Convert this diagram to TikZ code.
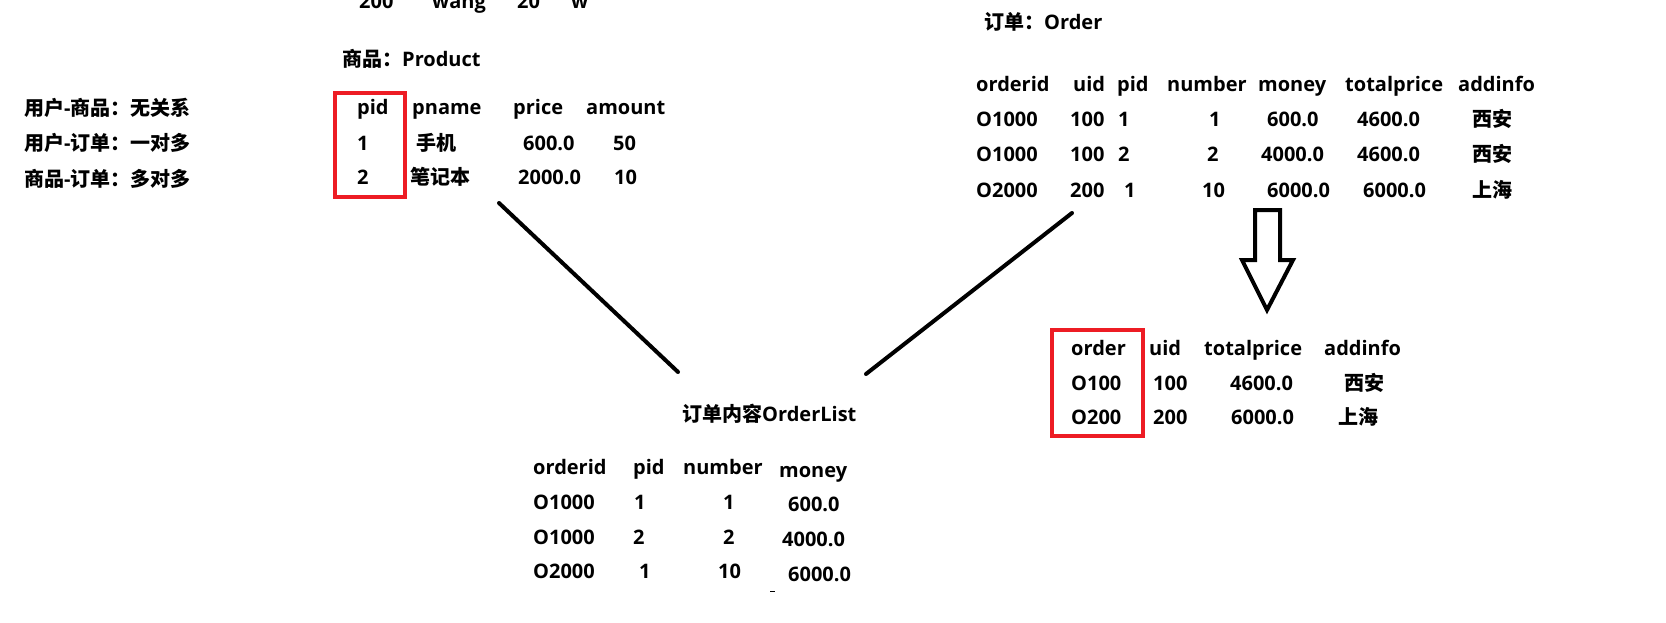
\documentclass[tikz,border=0pt]{standalone}
\usepackage{fontspec}
\setmainfont{Open Sans}
\newfontfamily\cjk{Noto Sans CJK SC}
\definecolor{keyred}{RGB}{237,28,36}

\begin{document}
\begin{tikzpicture}[x=1pt, y=-1pt,
    cell/.style={anchor=base west, inner sep=0pt, font=\fontsize{20}{24}\selectfont\bfseries},
    keybox/.style={draw=keyred, line width=4.5pt},
    lnk/.style={line width=4pt, line cap=round}]
  \useasboundingbox[fill=white] (0,0) rectangle (1666,623);

  % row cut off at the top
  \foreach \x/\t [count=\i] in {359/200,432/wang,517/20,571/w}
    \node[cell] (top\i) at (\x,9) {\t};

  % relations
  \node[cell] (rel1) at (24,116) {{\cjk 用户}-{\cjk 商品：无关系}};
  \node[cell] (rel2) at (24,151) {{\cjk 用户}-{\cjk 订单：一对多}};
  \node[cell] (rel3) at (24,186) {{\cjk 商品}-{\cjk 订单：多对多}};

  % Product
  \node[cell] (ptitle) at (342,67) {{\cjk 商品：}Product};
  \foreach \x/\t [count=\i] in {357/pid,412/pname,513/price,586/amount}
    \node[cell] (ph\i) at (\x,115) {\t};
  \foreach \x/\t [count=\i] in {357/1,416/{\cjk 手机},523/600.0,613/50}
    \node[cell] (pa\i) at (\x,151) {\t};
  \foreach \x/\t [count=\i] in {357/2,410/{\cjk 笔记本},518/2000.0,614/10}
    \node[cell] (pb\i) at (\x,185) {\t};
  \draw[keybox] (335,93) rectangle (405,197);

  % Order
  \node[cell] (otitle) at (984,30) {{\cjk 订单：}Order};
  \foreach \x/\t [count=\i] in {976/orderid,1073/uid,1117/pid,1167/number,1258/money,1345/totalprice,1458/addinfo}
    \node[cell] (oh\i) at (\x,92) {\t};
  \foreach \x/\t [count=\i] in {976/O1000,1070/100,1118/1,1209/1,1267/600.0,1357/4600.0,1472/{\cjk 西安}}
    \node[cell] (oa\i) at (\x,127) {\t};
  \foreach \x/\t [count=\i] in {976/O1000,1070/100,1118/2,1207/2,1261/4000.0,1357/4600.0,1472/{\cjk 西安}}
    \node[cell] (ob\i) at (\x,162) {\t};
  \foreach \x/\t [count=\i] in {976/O2000,1070/200,1124/1,1202/10,1267/6000.0,1363/6000.0,1472/{\cjk 上海}}
    \node[cell] (oc\i) at (\x,197) {\t};

  % hollow arrow down to the split order table
  \coordinate (AT) at (1255,210);
  \draw[line width=4pt, line join=miter] (AT) -- ++(25,0) -- ++(0,50) -- ++(13,0)
    -- ++(-26,50) -- ++(-25,-50) -- ++(13,0) -- cycle;

  % Order, split
  \foreach \x/\t [count=\i] in {1071/order,1149/uid,1204/totalprice,1324/addinfo}
    \node[cell] (sh\i) at (\x,355) {\t};
  \foreach \x/\t [count=\i] in {1071/O100,1153/100,1230/4600.0,1344/{\cjk 西安}}
    \node[cell] (sa\i) at (\x,390) {\t};
  \foreach \x/\t [count=\i] in {1071/O200,1153/200,1231/6000.0,1338/{\cjk 上海}}
    \node[cell] (sb\i) at (\x,424) {\t};
  \draw[keybox] (1052,330) rectangle (1143,436);

  % OrderList
  \node[cell] (ltitle) at (682,421) {{\cjk 订单内容}OrderList};
  \foreach \x/\t [count=\i] in {533/orderid,633/pid,683/number}
    \node[cell] (lh\i) at (\x,474) {\t};
  \node[cell] (lh4) at (779,477) {money};
  \foreach \x/\t [count=\i] in {533/O1000,634/1,723/1}
    \node[cell] (la\i) at (\x,509) {\t};
  \node[cell] (la4) at (788,511) {600.0};
  \foreach \x/\t [count=\i] in {533/O1000,633/2,723/2}
    \node[cell] (lb\i) at (\x,544) {\t};
  \node[cell] (lb4) at (782,546) {4000.0};
  \foreach \x/\t [count=\i] in {533/O2000,639/1,718/10}
    \node[cell] (lc\i) at (\x,578) {\t};
  \node[cell] (lc4) at (788,581) {6000.0};
  \draw[line width=1pt] (770,591) -- (775,591);

  % links to OrderList
  \coordinate (PL) at (499,203);
  \coordinate (LL) at (678,372);
  \coordinate (OL) at (1072,213);
  \coordinate (LR) at (866,374);
  \draw[lnk] (PL) -- (LL);
  \draw[lnk] (OL) -- (LR);
\end{tikzpicture}
\end{document}
